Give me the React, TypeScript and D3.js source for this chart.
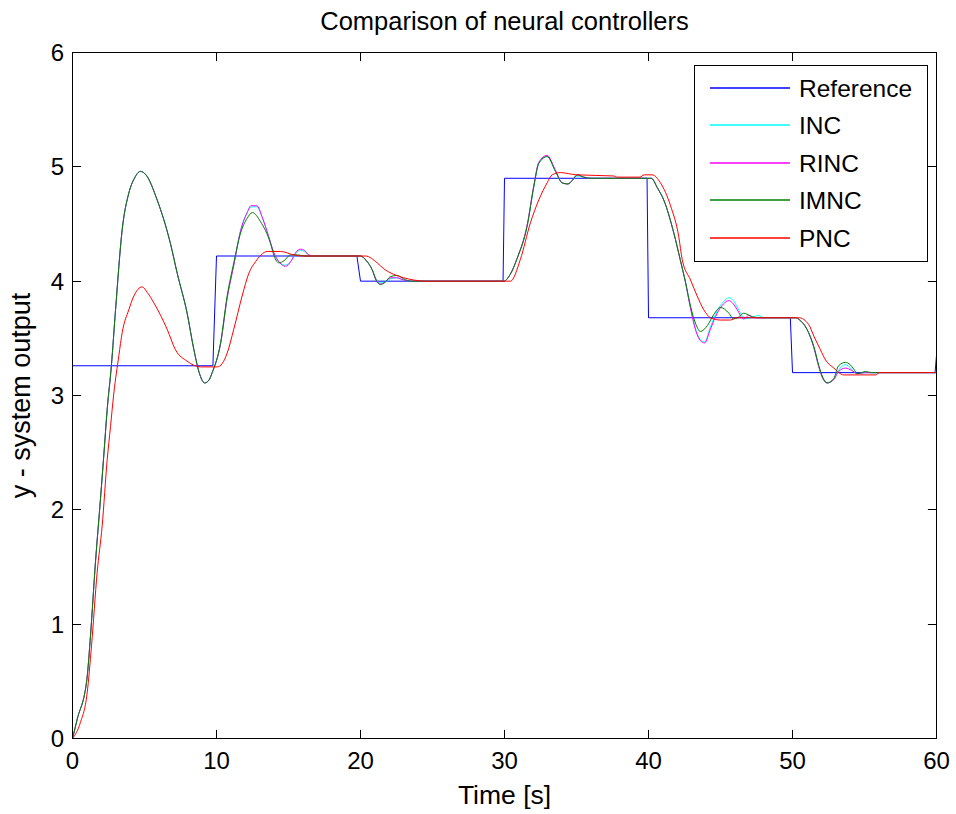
import React from "react";
import * as d3 from "d3";

type P = [number, number];

const xTicks = [0, 10, 20, 30, 40, 50, 60];
const yTicks = [0, 1, 2, 3, 4, 5, 6];
const seriesNames = ["Reference", "INC", "RINC", "IMNC", "PNC"];
const seriesColors = ["#0000ff", "#00ffff", "#ff00ff", "#008000", "#ff0000"];

const reference: P[] = [
  [0, 3.26], [9.75, 3.26], [10.0, 4.22], [19.75, 4.22], [20.0, 4.0], [29.9, 4.0],
  [30.0, 4.9], [39.9, 4.9], [40.0, 3.68], [49.85, 3.68], [50.0, 3.2], [59.9, 3.2], [60, 3.35],
];

const inc: P[] = [
  [0, 0], [0.33, 0.17], [1.0, 0.52], [1.25, 0.9], [1.6, 1.55], [1.94, 2.09], [2.17, 2.47], [2.41, 2.88],
  [2.7, 3.26], [2.99, 3.75], [3.45, 4.45], [3.91, 4.77], [4.3, 4.9], [4.72, 4.96], [5.1, 4.93], [5.88, 4.71],
  [6.8, 4.33], [7.27, 4.07], [7.96, 3.72], [8.43, 3.4], [8.85, 3.18], [9.17, 3.11], [9.45, 3.13], [9.7, 3.2],
  [10.28, 3.45], [10.74, 3.85], [11.2, 4.14], [11.67, 4.44], [12.13, 4.6], [12.4, 4.65], [12.8, 4.65],
  [13.2, 4.55], [13.6, 4.4], [13.98, 4.25], [14.4, 4.16], [14.79, 4.14], [15.2, 4.18], [15.5, 4.24],
  [15.83, 4.27], [16.1, 4.26], [16.4, 4.23], [16.8, 4.22], [20.0, 4.22], [20.4, 4.18], [20.81, 4.1],
  [21.1, 4.01], [21.35, 3.985], [21.7, 3.99], [22.08, 4.02], [22.5, 4.03], [23.0, 4.01], [23.5, 4.0],
  [29.95, 4.0], [30.4, 4.06], [30.88, 4.2], [31.57, 4.48], [32.04, 4.83], [32.38, 5.03], [32.96, 5.09],
  [33.54, 4.96], [34.0, 4.86], [34.4, 4.85], [34.7, 4.88], [35.05, 4.92], [35.5, 4.91], [36.0, 4.9],
  [40.2, 4.9], [40.6, 4.82], [41.06, 4.71], [41.76, 4.42], [42.2, 4.19], [42.57, 3.99], [42.92, 3.77],
  [43.3, 3.57], [43.6, 3.49], [43.9, 3.47], [44.3, 3.6], [44.77, 3.74], [45.2, 3.82], [45.58, 3.855],
  [45.9, 3.83], [46.3, 3.74], [46.7, 3.67], [47.1, 3.68], [47.66, 3.7], [48.0, 3.68], [50.2, 3.68],
  [50.5, 3.66], [51.0, 3.58], [51.48, 3.42], [51.83, 3.25], [52.1, 3.15], [52.4, 3.11], [52.87, 3.14],
  [53.2, 3.22], [53.68, 3.27], [54.1, 3.23], [54.5, 3.19], [55.0, 3.2], [60, 3.2],
];

const rinc: P[] = [
  [0, 0], [0.33, 0.17], [1.0, 0.52], [1.25, 0.9], [1.6, 1.55], [1.94, 2.09], [2.17, 2.47], [2.41, 2.88],
  [2.7, 3.26], [2.99, 3.75], [3.45, 4.45], [3.91, 4.77], [4.3, 4.9], [4.72, 4.96], [5.1, 4.93], [5.88, 4.71],
  [6.8, 4.33], [7.27, 4.07], [7.96, 3.72], [8.43, 3.4], [8.85, 3.18], [9.17, 3.11], [9.45, 3.13], [9.7, 3.2],
  [10.28, 3.45], [10.74, 3.85], [11.2, 4.14], [11.67, 4.44], [12.13, 4.6], [12.4, 4.66], [12.8, 4.66],
  [13.2, 4.55], [13.6, 4.4], [13.98, 4.25], [14.4, 4.16], [14.79, 4.13], [15.2, 4.18], [15.5, 4.25],
  [15.83, 4.28], [16.1, 4.27], [16.4, 4.23], [16.8, 4.22], [20.0, 4.22], [20.4, 4.18], [20.81, 4.1],
  [21.1, 4.0], [21.35, 3.975], [21.7, 3.99], [22.08, 4.03], [22.5, 4.03], [23.0, 4.01], [23.5, 4.0],
  [29.95, 4.0], [30.4, 4.06], [30.88, 4.2], [31.57, 4.49], [32.04, 4.84], [32.38, 5.04], [32.96, 5.1],
  [33.54, 4.97], [34.0, 4.86], [34.4, 4.85], [34.7, 4.88], [35.05, 4.93], [35.5, 4.91], [36.0, 4.9],
  [40.2, 4.9], [40.6, 4.82], [41.06, 4.71], [41.76, 4.42], [42.2, 4.19], [42.57, 3.99], [42.92, 3.76],
  [43.3, 3.56], [43.6, 3.48], [43.9, 3.46], [44.3, 3.58], [44.77, 3.72], [45.2, 3.8], [45.58, 3.83],
  [45.9, 3.8], [46.16, 3.75], [46.6, 3.67], [46.97, 3.7], [47.3, 3.68], [50.2, 3.68],
  [50.5, 3.66], [51.0, 3.58], [51.48, 3.42], [51.83, 3.25], [52.1, 3.15], [52.4, 3.11], [52.87, 3.14],
  [53.2, 3.21], [53.68, 3.24], [54.1, 3.22], [54.5, 3.19], [55.0, 3.2], [60, 3.2],
];

const imnc: P[] = [
  [0, 0], [0.33, 0.17], [1.0, 0.52], [1.25, 0.9], [1.6, 1.55], [1.94, 2.09], [2.17, 2.47], [2.41, 2.88],
  [2.7, 3.26], [2.99, 3.75], [3.45, 4.45], [3.91, 4.77], [4.3, 4.9], [4.72, 4.96], [5.1, 4.93], [5.88, 4.71],
  [6.8, 4.33], [7.27, 4.07], [7.96, 3.72], [8.43, 3.4], [8.85, 3.18], [9.17, 3.11], [9.45, 3.13], [9.7, 3.2],
  [10.28, 3.46], [10.74, 3.87], [11.2, 4.16], [11.67, 4.42], [12.13, 4.55], [12.48, 4.6], [13.06, 4.52],
  [13.75, 4.33], [14.0, 4.22], [14.33, 4.16], [14.7, 4.18], [15.14, 4.23], [15.6, 4.23], [16.2, 4.22],
  [20.0, 4.22], [20.4, 4.18], [20.81, 4.1], [21.1, 4.01], [21.39, 3.97], [21.7, 3.99], [22.08, 4.04],
  [22.55, 4.05], [23.0, 4.02], [23.5, 4.0], [29.95, 4.0], [30.4, 4.06], [30.88, 4.2], [31.57, 4.48],
  [32.04, 4.83], [32.38, 5.03], [32.96, 5.09], [33.54, 4.96], [34.0, 4.86], [34.4, 4.85], [34.7, 4.88],
  [35.05, 4.93], [35.5, 4.91], [36.0, 4.9], [40.2, 4.9], [40.6, 4.82], [41.06, 4.71], [41.76, 4.42],
  [42.2, 4.19], [42.57, 3.99], [42.92, 3.78], [43.3, 3.62], [43.6, 3.56], [44.08, 3.61], [44.54, 3.71],
  [45.0, 3.77], [45.58, 3.72], [45.9, 3.67], [46.2, 3.68], [46.6, 3.72], [47.2, 3.69], [47.6, 3.68],
  [50.2, 3.68], [50.5, 3.66], [51.0, 3.58], [51.48, 3.43], [51.83, 3.26], [52.1, 3.16], [52.4, 3.11],
  [52.87, 3.15], [53.2, 3.26], [53.68, 3.29], [54.0, 3.27], [54.26, 3.23], [54.5, 3.19], [55.07, 3.21],
  [55.5, 3.2], [60, 3.2],
];

const pnc: P[] = [
  [0, 0], [0.55, 0.14], [1.02, 0.4], [1.32, 0.81], [1.71, 1.45], [2.06, 1.86], [2.41, 2.44], [2.64, 2.73],
  [2.87, 3.02], [3.22, 3.35], [3.45, 3.55], [3.91, 3.75], [4.26, 3.87], [4.84, 3.95], [5.2, 3.9],
  [5.65, 3.81], [6.57, 3.58], [7.15, 3.4], [7.96, 3.3], [8.89, 3.25], [10.05, 3.25], [10.4, 3.28],
  [10.74, 3.37], [11.2, 3.58], [11.78, 3.87], [12.25, 4.07], [12.71, 4.17], [13.1, 4.23], [13.52, 4.26],
  [14.44, 4.26], [15.37, 4.23], [16.0, 4.22], [20.35, 4.22], [21.16, 4.16], [21.6, 4.11], [22.3, 4.06],
  [23.0, 4.03], [23.7, 4.01], [24.5, 4.0], [30.42, 4.0], [31.1, 4.19], [31.8, 4.51], [32.38, 4.71],
  [32.96, 4.86], [33.31, 4.93], [33.9, 4.95], [34.47, 4.94], [35.0, 4.93], [37.6, 4.92], [37.8, 4.91],
  [39.4, 4.91], [39.7, 4.93], [40.25, 4.93], [40.83, 4.86], [41.53, 4.66], [42.1, 4.39], [42.34, 4.19],
  [42.92, 4.01], [43.38, 3.87], [43.84, 3.75], [44.3, 3.68], [45.0, 3.66], [45.7, 3.66], [46.1, 3.68],
  [50.44, 3.68], [51.13, 3.62], [51.48, 3.52], [51.94, 3.4], [52.3, 3.31], [52.87, 3.24], [53.56, 3.18],
  [55.8, 3.18], [56.0, 3.2], [60, 3.2],
];

const W = 956;
const H = 814;
const L = 72.5, R = 936.5, T = 52.5, B = 738.5;
const FONT = "'Liberation Sans', Arial, Helvetica, sans-serif";

export default function App() {
  const x = d3.scaleLinear().domain([0, 60]).range([L, R]);
  const y = d3.scaleLinear().domain([0, 6]).range([B, T]);
  const lin = d3.line<P>().x((d) => x(d[0])).y((d) => y(d[1]));
  const smooth = d3.line<P>().x((d) => x(d[0])).y((d) => y(d[1])).curve(d3.curveMonotoneX);
  const data = [reference, inc, rinc, imnc, pnc];
  const tl = 8.6;
  const snap = (v: number) => Math.round(v - 0.5) + 0.5;

  const legX = 694.5, legY = 65.5, legW = 233, legH = 196, rowH = 37.5;

  return (
    <svg width={W} height={H} style={{ position: "absolute", left: 0, top: 0, background: "#fff" }} fontFamily={FONT}>
      <rect x={0} y={0} width={W} height={H} fill="#fff" />
      <defs>
        <clipPath id="plotclip">
          <rect x={L} y={T} width={R - L} height={B - T} />
        </clipPath>
      </defs>
      <g clipPath="url(#plotclip)" fill="none" strokeWidth={1}>
        {data.map((d, i) => (
          <path key={i} d={(i === 0 ? lin(d) : smooth(d)) || ""} stroke={seriesColors[i]} />
        ))}
      </g>
      <rect x={L} y={T} width={R - L} height={B - T} fill="none" stroke="#000" strokeWidth={1} />
      {xTicks.map((t) => (
        <g key={"x" + t}>
          <line x1={snap(x(t))} x2={snap(x(t))} y1={B} y2={B - tl} stroke="#000" />
          <line x1={snap(x(t))} x2={snap(x(t))} y1={T} y2={T + tl} stroke="#000" />
          <text x={x(t)} y={769} textAnchor="middle" fontSize={24}>{t}</text>
        </g>
      ))}
      {yTicks.map((t) => (
        <g key={"y" + t}>
          <line x1={L} x2={L + tl} y1={snap(y(t))} y2={snap(y(t))} stroke="#000" />
          <line x1={R} x2={R - tl} y1={snap(y(t))} y2={snap(y(t))} stroke="#000" />
          <text x={64} y={y(t) + 8.5} textAnchor="end" fontSize={24}>{t}</text>
        </g>
      ))}
      <text x={(L + R) / 2} y={29.5} textAnchor="middle" fontSize={25.5}>Comparison of neural controllers</text>
      <text x={(L + R) / 2} y={804} textAnchor="middle" fontSize={26.5}>Time [s]</text>
      <text transform={`translate(30, ${(T + B) / 2}) rotate(-90)`} textAnchor="middle" fontSize={27}>y - system output</text>
      <g>
        <rect x={legX} y={legY} width={legW} height={legH} fill="#fff" stroke="#000" strokeWidth={1} />
        {seriesNames.map((n, i) => {
          const cy = Math.round(legY + 22 + i * rowH);
          return (
            <g key={n}>
              <line x1={710} x2={790} y1={cy} y2={cy} stroke={seriesColors[i]} strokeWidth={1.3} />
              <text x={799} y={cy + 9} fontSize={24.5}>{n}</text>
            </g>
          );
        })}
      </g>
    </svg>
  );
}
